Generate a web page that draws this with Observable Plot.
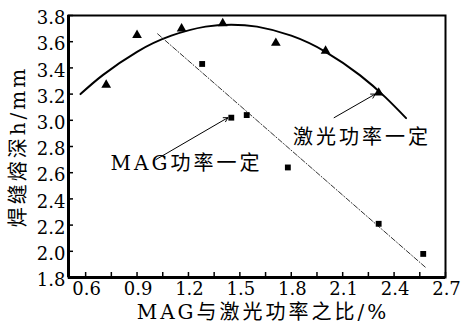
<!DOCTYPE html>
<html>
<head>
<meta charset="utf-8">
<script src="https://cdn.jsdelivr.net/npm/d3@7"></script>
<script src="https://cdn.jsdelivr.net/npm/@observablehq/plot@0.6"></script>
<style>
  html, body { margin: 0; padding: 0; background: #fff; }
  #chart { width: 463px; height: 329px; }
</style>
</head>
<body>
<div id="chart"></div>
<script>
// ---- data ----
const xTicks = [0.6, 0.9, 1.2, 1.5, 1.8, 2.1, 2.4, 2.7];
const xMinorTicks = [0.75, 1.05, 1.35, 1.65, 1.95, 2.25, 2.55];
const yTicks = [1.8, 2.0, 2.2, 2.4, 2.6, 2.8, 3.0, 3.2, 3.4, 3.6, 3.8];

// 激光功率一定 (triangles, solid fitted curve)
const laserX = [0.72, 0.90, 1.16, 1.40, 1.71, 2.00, 2.31];
const laserY = [3.27, 3.65, 3.70, 3.74, 3.59, 3.53, 3.21];
const laserCurveX = [0.57, 0.70, 0.90, 1.10, 1.30, 1.45, 1.60, 1.80, 2.00, 2.20, 2.35, 2.47];
const laserCurveY = [3.20, 3.345, 3.523, 3.646, 3.715, 3.73, 3.715, 3.646, 3.523, 3.345, 3.175, 3.017];

// MAG功率一定 (squares/dots, dash-dot fitted line)
const magX = [1.28, 1.45, 1.54, 1.78, 2.31, 2.57];
const magY = [3.43, 3.02, 3.04, 2.64, 2.21, 1.98];
const magLineX = [1.02, 2.59];
const magLineY = [3.66, 1.87];

// annotations
const annLabels = ["MAG功率一定", "激光功率一定"];
const annX = [0.745, 1.81];
const annY = [2.67, 2.87];
const arrowX1 = [1.01, 2.05];
const arrowY1 = [2.70, 3.02];
const arrowX2 = [1.43, 2.29];
const arrowY2 = [3.02, 3.20];

const xLabel = "MAG与激光功率之比/%";
const yLabel = "焊缝熔深h/mm";

// ---- build ----
const pts = (xs, ys) => xs.map((x, i) => ({x, y: ys[i]}));
const laserPts = pts(laserX, laserY);
const laserCurve = pts(laserCurveX, laserCurveY);
const magPts = pts(magX, magY);
const magLine = pts(magLineX, magLineY);
const ann = annLabels.map((t, i) => ({t, x: annX[i], y: annY[i]}));
const arrows = arrowX1.map((x1, i) => ({x1, y1: arrowY1[i], x2: arrowX2[i], y2: arrowY2[i]}));

const font = "'DejaVu Serif', 'Noto Sans CJK SC', serif";

const chart = Plot.plot({
  width: 463,
  height: 329,
  marginLeft: 68,
  marginRight: 18,
  marginTop: 15,
  marginBottom: 52,
  style: {fontFamily: font, fontSize: "18px", background: "#fff", color: "#000"},
  x: {domain: [0.5, 2.7]},
  y: {domain: [1.8, 3.8]},
  marks: [
    Plot.axisX({ticks: xTicks, tickSize: 0, tickPadding: 5, dx: 1, fontSize: 18, label: null, tickFormat: d3.format(".1f")}),
    Plot.axisY({ticks: yTicks, tickSize: 0, tickPadding: 3, dy: 3, fontSize: 18, label: null, tickFormat: d3.format(".1f")}),
    // inward tick marks (no labels)
    Plot.axisX({ticks: xTicks.concat(xMinorTicks), tickSize: -5, strokeWidth: 1.5, text: null, label: null}),
    Plot.axisY({ticks: yTicks, tickSize: -5, strokeWidth: 1.5, text: null, label: null}),
    Plot.frame({stroke: "#000", strokeWidth: 2}),
    Plot.ruleX([0.5], {stroke: "#000", strokeWidth: 3}),
    Plot.ruleY([1.8], {stroke: "#000", strokeWidth: 3}),
    // series
    Plot.line(laserCurve, {x: "x", y: "y", curve: "natural", stroke: "#000", strokeWidth: 2}),
    Plot.line(magLine, {x: "x", y: "y", stroke: "#333", strokeWidth: 1, strokeDasharray: "5 2 1 2"}),
    Plot.dot(laserPts, {x: "x", y: "y", symbol: "triangle", fill: "#000", r: 3.6}),
    Plot.dot(magPts, {x: "x", y: "y", symbol: "square", fill: "#000", r: 3.3}),
    // annotations
    Plot.arrow(arrows, {x1: "x1", y1: "y1", x2: "x2", y2: "y2", stroke: "#000", strokeWidth: 1, headLength: 7}),
    Plot.text(ann, {x: "x", y: "y", text: "t", textAnchor: "start", fontSize: 20, fill: "#000"}),
    Plot.text([xLabel], {text: d => d, frameAnchor: "bottom", textAnchor: "middle", dy: 41, dx: 6, fontSize: 20, fill: "#000"}),
    Plot.text([yLabel], {text: d => d, frameAnchor: "left", textAnchor: "middle", rotate: -90, dx: -50, fontSize: 20, fill: "#000"})
  ]
});
const spaced = new Set([...annLabels, xLabel, yLabel]);
chart.querySelectorAll("text").forEach(t => {
  if (spaced.has(t.textContent)) t.style.letterSpacing = "3px";
});
document.getElementById("chart").appendChild(chart);
</script>
</body>
</html>
